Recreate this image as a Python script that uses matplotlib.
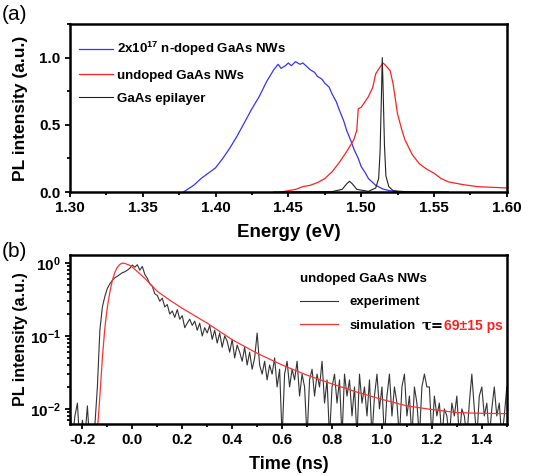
import numpy as np
import matplotlib
matplotlib.use('Agg')
import matplotlib.pyplot as plt
from matplotlib.ticker import MultipleLocator, LogLocator, NullFormatter, FormatStrFormatter

plt.rcParams['font.family'] = 'Liberation Sans'
plt.rcParams['font.weight'] = 'bold'
plt.rcParams['mathtext.fontset'] = 'custom'
plt.rcParams['mathtext.rm'] = 'Liberation Sans:bold'
plt.rcParams['mathtext.it'] = 'Liberation Sans:bold'
plt.rcParams['mathtext.bf'] = 'Liberation Sans:bold'
plt.rcParams['mathtext.default'] = 'rm'

# ---- panel (a): PL spectra ----
blue_e = [1.378, 1.385, 1.39, 1.395, 1.40, 1.405, 1.41, 1.415, 1.42, 1.425, 1.43,
          1.435, 1.44, 1.443, 1.445, 1.448, 1.45, 1.452, 1.455, 1.458, 1.46, 1.463,
          1.465, 1.468, 1.47, 1.473, 1.475, 1.478, 1.48, 1.483, 1.485, 1.488, 1.49,
          1.493, 1.495, 1.498, 1.50, 1.503, 1.505, 1.508, 1.51, 1.515, 1.52, 1.525]
blue_i = [0.0, 0.05, 0.10, 0.14, 0.18, 0.25, 0.33, 0.42, 0.52, 0.62, 0.71,
          0.82, 0.91, 0.95, 0.92, 0.94, 0.96, 0.94, 0.97, 0.95, 0.96, 0.93,
          0.91, 0.89, 0.86, 0.84, 0.81, 0.78, 0.73, 0.67, 0.61, 0.53, 0.46,
          0.38, 0.32, 0.25, 0.19, 0.14, 0.10, 0.07, 0.05, 0.022, 0.009, 0.003]

red_e = [1.445, 1.45, 1.455, 1.46, 1.465, 1.47, 1.475, 1.48, 1.485, 1.49, 1.495,
         1.497, 1.498, 1.50, 1.505, 1.508, 1.51, 1.513, 1.515, 1.517, 1.52, 1.522,
         1.525, 1.528, 1.53, 1.535, 1.54, 1.545, 1.55, 1.555, 1.56, 1.57, 1.58,
         1.59, 1.60]
red_i = [0.0, 0.01, 0.02, 0.04, 0.05, 0.07, 0.10, 0.15, 0.22, 0.30, 0.39,
         0.46, 0.62, 0.63, 0.71, 0.78, 0.88, 0.93, 0.96, 0.94, 0.90, 0.80,
         0.58, 0.46, 0.39, 0.28, 0.21, 0.17, 0.14, 0.10, 0.075, 0.055, 0.04,
         0.035, 0.03]

epi_e = [1.44, 1.48, 1.487, 1.490, 1.492, 1.494, 1.497, 1.505, 1.510, 1.512,
         1.513, 1.514, 1.5145, 1.515, 1.516, 1.517, 1.519, 1.522, 1.53, 1.56]
epi_i = [0.0, 0.003, 0.02, 0.06, 0.08, 0.06, 0.02, 0.005, 0.03, 0.10,
         0.30, 0.75, 1.0, 0.80, 0.35, 0.12, 0.04, 0.01, 0.003, 0.0]

# ---- panel (b): time-resolved PL ----
exp_t = np.round(np.arange(-0.25, 1.505, 0.01), 2)
exp_i = [0.010, 0.004, 0.008, 0.012, 0.003, 0.007, 0.004, 0.011, 0.003, 0.005,
         0.006, 0.02, 0.12, 0.25, 0.35, 0.45, 0.52, 0.58, 0.63, 0.66,
         0.70, 0.74, 0.76, 0.80, 0.85, 0.94, 0.88, 0.95, 0.80, 0.90,
         0.70, 0.62, 0.52, 0.48, 0.38, 0.36, 0.30, 0.33, 0.25, 0.27,
         0.20, 0.22, 0.18, 0.23, 0.17, 0.19, 0.13, 0.15, 0.17, 0.14,
         0.16, 0.12, 0.15, 0.10, 0.13, 0.11, 0.14, 0.09, 0.12, 0.08,
         0.11, 0.07, 0.10, 0.085, 0.06, 0.09, 0.05, 0.075, 0.06, 0.045,
         0.07, 0.04, 0.06, 0.035, 0.05, 0.11, 0.04, 0.03, 0.045, 0.025,
         0.04, 0.03, 0.05, 0.02, 0.035, 0.004, 0.03, 0.045, 0.02, 0.035,
         0.025, 0.045, 0.015, 0.03, 0.02, 0.004, 0.025, 0.035, 0.015, 0.03,
         0.02, 0.045, 0.012, 0.025, 0.004, 0.02, 0.03, 0.012, 0.025, 0.004,
         0.03, 0.015, 0.025, 0.008, 0.02, 0.004, 0.03, 0.012, 0.02, 0.008,
         0.025, 0.004, 0.015, 0.03, 0.01, 0.02, 0.004, 0.015, 0.03, 0.008,
         0.02, 0.012, 0.004, 0.02, 0.03, 0.008, 0.015, 0.004, 0.02, 0.012,
         0.004, 0.02, 0.03, 0.02, 0.02, 0.004, 0.015, 0.008, 0.012, 0.004,
         0.01, 0.008, 0.004, 0.012, 0.008, 0.015, 0.004, 0.01, 0.008, 0.004,
         0.012, 0.03, 0.01, 0.004, 0.015, 0.02, 0.008, 0.012, 0.004, 0.01,
         0.02, 0.008, 0.012, 0.004, 0.008, 0.02]

sim_t = [-0.14, -0.13, -0.12, -0.11, -0.10, -0.09, -0.08, -0.07, -0.06, -0.05,
         -0.04, -0.03, -0.02, -0.01, 0.0, 0.05, 0.1, 0.15, 0.2, 0.3, 0.4, 0.5,
         0.6, 0.7, 0.8, 0.9, 1.0, 1.1, 1.2, 1.3, 1.4, 1.5]
sim_i = [0.005, 0.015, 0.05, 0.13, 0.25, 0.40, 0.58, 0.75, 0.88, 0.96,
         1.0, 0.99, 0.96, 0.93, 0.88, 0.62, 0.41, 0.31, 0.24, 0.15, 0.089, 0.058,
         0.040, 0.029, 0.022, 0.017, 0.0135, 0.011, 0.0098, 0.0089, 0.0087, 0.0086]

fig = plt.figure(figsize=(5.42, 4.76), dpi=100)
ax1 = fig.add_axes([0.129, 0.5966, 0.806, 0.353])
ax2 = fig.add_axes([0.129, 0.1092, 0.806, 0.355])


def style(ax):
    for s in ax.spines.values():
        s.set_linewidth(1.8)
    ax.tick_params(which='both', direction='out', top=False, right=False,
                   labelsize=11, width=1.3)
    ax.tick_params(which='major', length=3.8, pad=3)
    ax.tick_params(which='minor', length=2.3)
    for lb in ax.get_xticklabels() + ax.get_yticklabels():
        lb.set_fontweight('bold')


ax1.plot(blue_e, blue_i, color='#3333ff', lw=0.9, label='2x10$^{17}$ n-doped GaAs NWs')
ax1.plot(red_e, red_i, color='#ff2020', lw=0.9, label='undoped GaAs NWs')
ax1.plot(epi_e, epi_i, color='#222222', lw=0.8, label='GaAs epilayer')
ax1.set_xlim(1.30, 1.60)
ax1.set_ylim(0, 1.25)
ax1.xaxis.set_major_locator(MultipleLocator(0.05))
ax1.xaxis.set_minor_locator(MultipleLocator(0.025))
ax1.yaxis.set_major_locator(MultipleLocator(0.5))
ax1.yaxis.set_minor_locator(MultipleLocator(0.25))
ax1.xaxis.set_major_formatter(FormatStrFormatter('%.2f'))
ax1.yaxis.set_major_formatter(FormatStrFormatter('%.1f'))
style(ax1)
ax1.set_xlabel('Energy (eV)', fontsize=13.5, fontweight='bold', labelpad=6)
ax1.set_ylabel('PL intensity (a.u.)', fontsize=12.5, fontweight='bold')
ax1.yaxis.set_label_coords(-0.097, 0.5)
ax1.legend(loc='upper left', bbox_to_anchor=(0.0, 0.96), frameon=False,
           fontsize=9.5, handlelength=2.6, handletextpad=0.3, labelspacing=0.85,
           borderaxespad=0.3)

ax2.plot(exp_t, exp_i, color='#333333', lw=0.8, label='experiment')
ax2.plot(sim_t, sim_i, color='#ff3030', lw=0.9, label='simulation')
ax2.set_yscale('log')
ax2.set_xlim(-0.25, 1.5)
ax2.set_ylim(0.0062, 1.29)
ax2.xaxis.set_major_locator(MultipleLocator(0.2))
ax2.xaxis.set_minor_locator(MultipleLocator(0.1))
ax2.xaxis.set_major_formatter(FormatStrFormatter('%.1f'))
ax2.yaxis.set_major_locator(LogLocator(base=10))
ax2.yaxis.set_minor_locator(LogLocator(base=10, subs=np.arange(2, 10)))
ax2.yaxis.set_minor_formatter(NullFormatter())
style(ax2)
ax2.set_xlabel('Time (ns)', fontsize=13, fontweight='bold', labelpad=6)
ax2.set_ylabel('PL intensity (a.u.)', fontsize=11.5, fontweight='bold')
ax2.yaxis.set_label_coords(-0.097, 0.5)
leg = ax2.legend(loc='upper left', bbox_to_anchor=(0.50, 0.965), frameon=False,
                 title='undoped GaAs NWs', fontsize=9.5, title_fontsize=9.5,
                 handlelength=2.9, handletextpad=0.8, labelspacing=0.85)
leg._legend_box.align = 'left'
leg.get_title().set_fontweight('bold')

fig.text(0.004, 0.99, '(a)', fontsize=15, va='top', ha='left', fontweight='normal')
fig.text(0.004, 0.492, '(b)', fontsize=15, va='top', ha='left', fontweight='normal')

# place the tau annotation right after the "simulation" legend entry
fig.canvas.draw()
bb = leg.get_texts()[1].get_window_extent().transformed(fig.transFigure.inverted())
ymid = 0.5 * (bb.y0 + bb.y1)
t1 = fig.text(bb.x1 + 0.012, ymid, '\u03c4=', fontsize=10.5, fontweight='bold',
              family='DejaVu Serif', va='center', ha='left')
fig.canvas.draw()
bb2 = t1.get_window_extent().transformed(fig.transFigure.inverted())
fig.text(bb2.x1, ymid, '69\u00b115 ps', fontsize=10, fontweight='bold',
         color='#ff2020', va='center', ha='left')

plt.savefig('out.png', dpi=100)
